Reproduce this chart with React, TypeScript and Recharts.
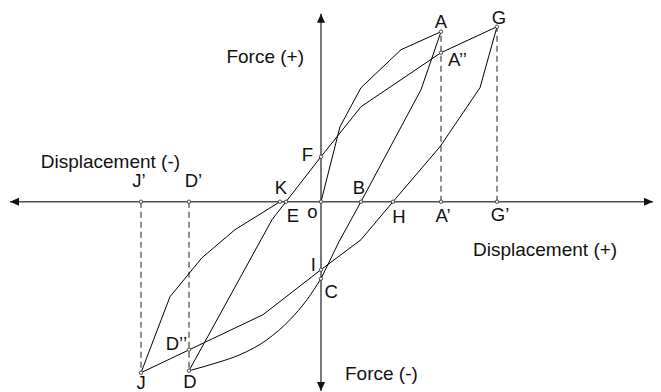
import React from 'react';
import { LineChart, Line, XAxis, YAxis, ReferenceLine, ReferenceDot } from 'recharts';

// hysteresis loop paths (displacement, force) in arbitrary units
const loadX = [0, 1.9, 4.0, 8.0, 12.0];
const loadY = [0, 7.5, 11.4, 15.2, 17.0];

const unloadAX = [12.0, 10.0, 4.0, 1.8, 0];
const unloadAY = [17.0, 11.2, 0, -4.0, -7.7];

const reverseCX = [-13.2, -10.4, -8.1, -5.4, -3.1, -1.4, 0];
const reverseCY = [-16.9, -16.1, -15.3, -13.8, -11.8, -9.8, -7.7];

const reloadDX = [-13.2, -4.9, -3.5, 0, 4.0, 12.0, 17.6];
const reloadDY = [-16.9, -1.8, 0, 4.5, 9.5, 14.9, 17.5];

const unloadGX = [17.6, 15.9, 11.9, 7.2, 4.0, 0, -5.8, -18.0];
const unloadGY = [17.5, 11.4, 5.5, 0, -3.8, -6.8, -11.3, -17.1];

const reloadJX = [-18.0, -15.1, -11.9, -8.6, -4.1];
const reloadJY = [-17.1, -9.5, -5.6, -2.8, 0];

// dashed projections onto the displacement axis
const projX = [-18.0, -13.2, 12.0, 17.6];
const projY = [-17.1, -16.9, 17.0, 17.5];

// marked points
const pointNames = ['A', 'G', 'A’’', 'F', 'K', 'E', 'o', 'B', 'H', 'A’', 'G’', 'J’', 'D’', 'I', 'C', 'D’’', 'J', 'D'];
const pointX = [12.0, 17.6, 12.0, 0, -4.1, -3.5, 0, 4.0, 7.2, 12.0, 17.6, -18.0, -13.2, 0, 0, -13.2, -18.0, -13.2];
const pointY = [17.0, 17.5, 14.9, 4.5, 0, 0, 0, 0, 0, 0, 0, 0, 0, -6.8, -7.7, -14.8, -17.1, -16.9];

const xDomain = [-32.1, 34.0];
const yDomain = [-19.03, 20.17];

// label placement (pixels from point): dx, dy, anchor
const labelPos: Record<string, [number, number, string]> = {
    'A': [0, -4, 'middle'],
    'G': [2, -3, 'middle'],
    'A’’': [7, 13, 'start'],
    'F': [-8, 4, 'end'],
    'K': [1, -8, 'middle'],
    'E': [7, 20, 'middle'],
    'o': [-8.5, 16.5, 'middle'],
    'B': [-2, -8, 'middle'],
    'H': [6, 21, 'middle'],
    'A’': [2, 20, 'middle'],
    'G’': [3, 19, 'middle'],
    'J’': [-2, -15, 'middle'],
    'D’': [4.5, -15, 'middle'],
    'I': [-5, 1, 'end'],
    'C': [3.5, 19, 'start'],
    'D’’': [-2, 0, 'end'],
    'J': [0, 16.5, 'middle'],
    'D': [1, 17.5, 'middle'],
};

const FONT = '"Liberation Sans", Arial, sans-serif';

const zip = (xs: number[], ys: number[]) => xs.map((x, i) => ({ x, y: ys[i] }));

const paths = [
    { key: 'oA', data: zip(loadX, loadY), type: 'linear' },
    { key: 'ABC', data: zip(unloadAX, unloadAY), type: 'linear' },
    { key: 'CD', data: zip(reverseCX, reverseCY), type: 'monotone' },
    { key: 'DG', data: zip(reloadDX, reloadDY), type: 'linear' },
    { key: 'GJ', data: zip(unloadGX, unloadGY), type: 'linear' },
    { key: 'JK', data: zip(reloadJX, reloadJY), type: 'linear' },
];

const points = pointNames.map((name, i) => ({ name, x: pointX[i], y: pointY[i] }));

const arrowAxis = (p: any) => {
    const { x1, y1, x2, y2 } = p;
    const ang = Math.atan2(y2 - y1, x2 - x1);
    const head = (x: number, y: number, a: number) => {
        const L = 9, W = 4;
        const bx = x - L * Math.cos(a), by = y - L * Math.sin(a);
        const nx = -Math.sin(a) * W, ny = Math.cos(a) * W;
        return `${x},${y} ${bx + nx},${by + ny} ${bx - nx},${by - ny}`;
    };
    return (
        <g>
            <line x1={x1} y1={y1} x2={x2} y2={y2} stroke="#4d4d4d" strokeWidth={1.5} />
            <polygon points={head(x2, y2, ang)} fill="#111" />
            <polygon points={head(x1, y1, ang + Math.PI)} fill="#111" />
        </g>
    );
};

const renderPoint = (p: any) => {
    const { cx, cy, payload, index } = p;
    const [dx, dy, anchor] = labelPos[payload.name];
    return (
        <g key={`pt-${index}`}>
            <circle cx={cx} cy={cy} r={1.7} fill="#fff" stroke="#333" strokeWidth={0.9} />
            <text x={cx + dx} y={cy + dy} textAnchor={anchor as any} fontSize={18.5} fontFamily={FONT} fill="#111">
                {payload.name}
            </text>
        </g>
    );
};

const title = (text: string, anchor: string) => (p: any) => (
    <text x={p.cx} y={p.cy} textAnchor={anchor as any} fontSize={19} fontFamily={FONT} fill="#111">
        {text}
    </text>
);

export default function App() {
    return (
        <div style={{ position: 'absolute', left: 0, top: 0, background: '#fff' }}>
            <LineChart width={661} height={392} margin={{ top: 0, right: 0, bottom: 0, left: 0 }}>
                <XAxis type="number" dataKey="x" domain={xDomain} allowDataOverflow hide />
                <YAxis type="number" dataKey="y" domain={yDomain} allowDataOverflow hide />

                {projX.map((x, i) => (
                    <Line
                        key={`proj-${i}`}
                        data={[{ x, y: 0 }, { x, y: projY[i] }]}
                        dataKey="y"
                        stroke="#444"
                        strokeWidth={1.2}
                        strokeDasharray="6 4"
                        dot={false}
                        activeDot={false}
                        isAnimationActive={false}
                    />
                ))}

                <ReferenceLine segment={[{ x: -31.1, y: 0 }, { x: 33.2, y: 0 }]} shape={arrowAxis} ifOverflow="visible" />
                <ReferenceLine segment={[{ x: 0, y: 18.8 }, { x: 0, y: -18.93 }]} shape={arrowAxis} ifOverflow="visible" />

                {paths.map((s) => (
                    <Line
                        key={s.key}
                        data={s.data}
                        dataKey="y"
                        type={s.type as any}
                        stroke="#000"
                        strokeWidth={1}
                        dot={false}
                        activeDot={false}
                        isAnimationActive={false}
                    />
                ))}

                <Line
                    data={points}
                    dataKey="y"
                    stroke="none"
                    dot={renderPoint}
                    activeDot={false}
                    isAnimationActive={false}
                />

                <ReferenceDot x={-1.7} y={13.84} r={0} ifOverflow="visible" shape={title('Force (+)', 'end')} />
                <ReferenceDot x={2.4} y={-17.79} r={0} ifOverflow="visible" shape={title('Force (-)', 'start')} />
                <ReferenceDot x={-28.03} y={3.37} r={0} ifOverflow="visible" shape={title('Displacement (-)', 'start')} />
                <ReferenceDot x={15.2} y={-5.43} r={0} ifOverflow="visible" shape={title('Displacement (+)', 'start')} />
            </LineChart>
        </div>
    );
}
